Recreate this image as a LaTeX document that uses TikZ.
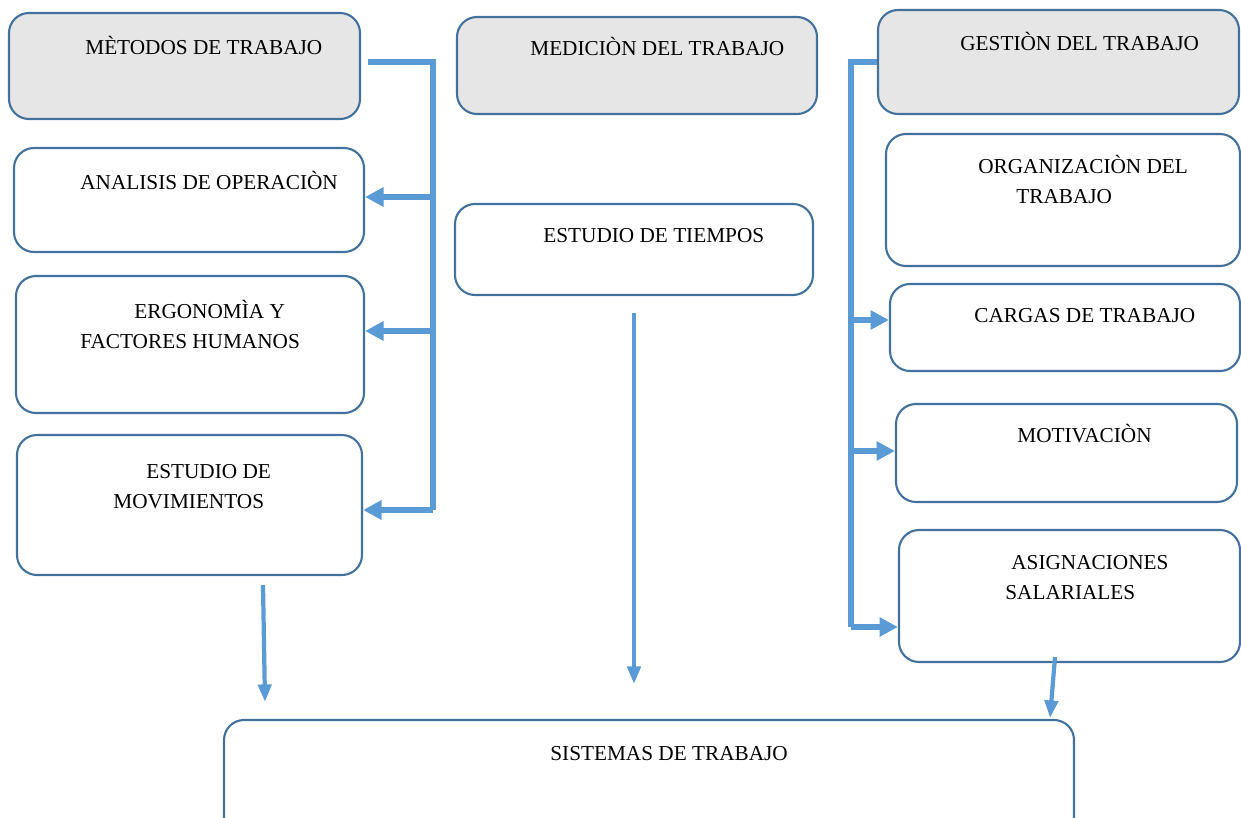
\documentclass[tikz,border=0pt]{standalone}
\usepackage{fontspec}
\setmainfont{Liberation Serif}
\usetikzlibrary{arrows.meta,fit}
\definecolor{borde}{HTML}{41719C}
\definecolor{azul}{HTML}{5B9BD5}
\definecolor{gris}{HTML}{E7E6E6}
\tikzset{
    caja/.style={draw=borde, line width=1.2pt, rounded corners=0.4cm, inner sep=0pt},
    cajagris/.style={caja, fill=gris},
    texto/.style={anchor=base west, inner sep=0pt, align=left, font=\fontsize{12.1}{17}\selectfont},
    rama/.style={draw=azul, line width=3.4pt},
    flecha/.style={rama, -{Triangle[length=10.5pt,width=10.5pt]}},
    bajada/.style={draw=azul, line width=2.4pt, -{Triangle[length=10pt,width=7.5pt]}}
}
\begin{document}
\begin{tikzpicture}[x=0.02cm, y=-0.02cm]
            \useasboundingbox (0, 0) rectangle (1241, 818);
            % cajas
            \node[cajagris, fit={(9, 13) (360, 119)}] (metodos) {};
            \node[caja, fit={(14, 148) (364, 252)}] (analisis) {};
            \node[caja, fit={(16, 276) (364, 413)}] (ergonomia) {};
            \node[caja, fit={(17, 435) (362, 575)}] (movimientos) {};
            \node[cajagris, fit={(457, 17) (817, 114)}] (medicion) {};
            \node[caja, fit={(455, 204) (813, 295)}] (tiempos) {};
            \node[cajagris, fit={(878, 10) (1239, 114)}] (gestion) {};
            \node[caja, fit={(886, 134) (1240, 266)}] (organizacion) {};
            \node[caja, fit={(890, 284) (1240, 371)}] (cargas) {};
            \node[caja, fit={(896, 404) (1237, 502)}] (motivacion) {};
            \node[caja, fit={(899, 530) (1240, 662)}] (asignaciones) {};
            \node[caja, fit={(224, 720) (1074, 845)}] (sistemas) {};
            % textos (en los de dos renglones, la base es la del segundo)
            \node[texto] (tMetodos) at (85, 54) {MÈTODOS DE TRABAJO};
            \node[texto] (tAnalisis) at (80, 189) {ANALISIS DE OPERACIÒN};
            \node[texto] (tErgonomia) at (80, 348) {\hspace*{1.08cm}ERGONOMÌA Y\\FACTORES HUMANOS};
            \node[texto] (tMovimientos) at (113, 508) {\hspace*{0.66cm}ESTUDIO DE\\MOVIMIENTOS};
            \node[texto] (tMedicion) at (530, 55) {MEDICIÒN DEL TRABAJO};
            \node[texto] (tTiempos) at (543, 242) {ESTUDIO DE TIEMPOS};
            \node[texto] (tGestion) at (960, 51) {GESTIÒN DEL TRABAJO};
            \node[texto] (tOrganizacion) at (978, 203) {ORGANIZACIÒN DEL\\\hspace*{0.76cm}TRABAJO};
            \node[texto] (tCargas) at (974, 322) {CARGAS DE TRABAJO};
            \node[texto] (tMotivacion) at (1017, 442) {MOTIVACIÒN};
            \node[texto] (tAsignaciones) at (1005, 599) {\hspace*{0.12cm}ASIGNACIONES\\SALARIALES};
            \node[texto] (tSistemas) at (550, 760) {SISTEMAS DE TRABAJO};
            % llave izquierda
            \coordinate (izqA) at (368, 62);
            \coordinate (izqB) at (433, 62);
            \coordinate (izq1) at (433, 197);
            \coordinate (izq2) at (433, 331);
            \coordinate (izq3) at (433, 510);
            \draw[rama] (izqA) -- (izqB) -- (izq3);
            \draw[flecha] (izq1) -- (izq1 -| analisis.east);
            \draw[flecha] (izq2) -- (izq2 -| ergonomia.east);
            \draw[flecha] (izq3) -- (izq3 -| movimientos.east);
            % llave derecha
            \coordinate (derB) at (851, 62);
            \coordinate (der1) at (851, 320);
            \coordinate (der2) at (851, 451);
            \coordinate (der3) at (851, 627);
            \draw[rama] (gestion.west) -- (derB) -- (der3);
            \draw[flecha] (der1) -- (der1 -| cargas.west);
            \draw[flecha] (der2) -- (der2 -| motivacion.west);
            \draw[flecha] (der3) -- (der3 -| asignaciones.west);
            % hacia sistemas de trabajo
            \coordinate (movAbajo) at (263, 585);
            \coordinate (sisIzq) at (265, 702);
            \coordinate (tieAbajo) at (634, 313);
            \coordinate (sisCentro) at (634, 684);
            \coordinate (asiAbajo) at (1055, 657);
            \coordinate (sisDer) at (1050, 718);
            \draw[bajada] (movAbajo) -- (sisIzq);
            \draw[bajada] (tieAbajo) -- (sisCentro);
            \draw[bajada] (asiAbajo) -- (sisDer);
        \end{tikzpicture}
\end{document}
